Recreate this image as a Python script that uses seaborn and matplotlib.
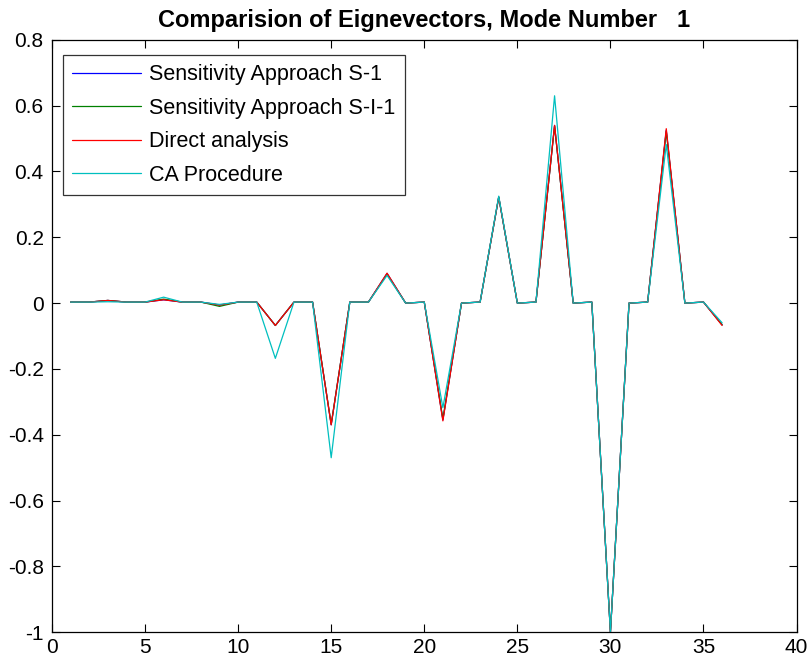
"""
Comparison of eigenvectors, mode number 1 (MATLAB style line chart)
"""

import matplotlib

matplotlib.use("Agg")
import matplotlib.pyplot as plt
import pandas as pd
import seaborn as sns

# node / DOF index
dof = list(range(1, 37))

# Sensitivity approach S-1
sens_s1 = [0.003, 0.003, 0.008, 0.003, 0.003, 0.010, 0.003, 0.003, -0.006, 0.003,
           0.003, -0.068, 0.003, 0.003, -0.370, 0.003, 0.003, 0.090, 0.000, 0.003,
           -0.355, 0.000, 0.003, 0.322, 0.000, 0.003, 0.540, 0.000, 0.003, -1.000,
           0.000, 0.003, 0.525, 0.000, 0.003, -0.066]

# Sensitivity approach S-I-1
sens_si1 = [0.003, 0.003, 0.008, 0.003, 0.003, 0.012, 0.003, 0.003, -0.010, 0.003,
            0.003, -0.068, 0.003, 0.003, -0.368, 0.003, 0.003, 0.088, 0.000, 0.003,
            -0.352, 0.000, 0.003, 0.322, 0.000, 0.003, 0.538, 0.000, 0.003, -1.000,
            0.000, 0.003, 0.522, 0.000, 0.003, -0.066]

# Direct analysis
direct = [0.003, 0.003, 0.008, 0.003, 0.003, 0.010, 0.003, 0.003, -0.006, 0.003,
          0.003, -0.068, 0.003, 0.003, -0.370, 0.003, 0.003, 0.091, 0.000, 0.003,
          -0.358, 0.000, 0.003, 0.322, 0.000, 0.003, 0.540, 0.000, 0.003, -1.000,
          0.000, 0.003, 0.530, 0.000, 0.003, -0.068]

# CA procedure
ca_proc = [0.003, 0.003, 0.004, 0.003, 0.003, 0.018, 0.003, 0.003, -0.004, 0.003,
           0.003, -0.168, 0.003, 0.003, -0.470, 0.003, 0.003, 0.084, 0.000, 0.003,
           -0.318, 0.000, 0.003, 0.325, 0.000, 0.003, 0.630, 0.000, 0.003, -1.000,
           0.000, 0.003, 0.482, 0.000, 0.003, -0.060]

labels = ["Sensitivity Approach S-1", "Sensitivity Approach S-I-1",
          "Direct analysis", "CA Procedure"]
colors = ["#0000ff", "#008000", "#ff0000", "#00bfbf"]


def main():
    sns.set_style("white")
    plt.rcParams["font.family"] = ["Liberation Sans", "DejaVu Sans"]
    plt.rcParams["text.color"] = "black"
    plt.rcParams["xtick.direction"] = "in"
    plt.rcParams["ytick.direction"] = "in"

    fig = plt.figure(figsize=(8.12, 6.64), dpi=100)
    ax = fig.add_axes([0.064, 0.048, 0.917, 0.892])

    series = [sens_s1, sens_si1, direct, ca_proc]
    for vals, lab, col in zip(series, labels, colors):
        df = pd.DataFrame({"x": dof, "y": vals})
        sns.lineplot(data=df, x="x", y="y", ax=ax, color=col, label=lab,
                     linewidth=0.9, estimator=None)

    ax.set_xlim(0, 40)
    ax.set_ylim(-1, 0.8)
    ax.set_xticks(range(0, 41, 5))
    ax.set_yticks([-1, -0.8, -0.6, -0.4, -0.2, 0, 0.2, 0.4, 0.6, 0.8])
    ax.set_yticklabels(["-1", "-0.8", "-0.6", "-0.4", "-0.2", "0", "0.2",
                        "0.4", "0.6", "0.8"])
    ax.set_xlabel("")
    ax.set_ylabel("")
    ax.tick_params(axis="both", labelsize=15, length=5.5, width=0.8,
                   top=True, right=True, bottom=True, left=True,
                   colors="black", labelcolor="black")
    ax.tick_params(axis="y", pad=6)
    ax.tick_params(axis="x", pad=4)
    for sp in ax.spines.values():
        sp.set_color("black")
        sp.set_linewidth(0.9)

    ax.set_title("Comparision of Eignevectors, Mode Number   1",
                 fontsize=17, fontweight="bold", pad=9, color="black")

    leg = ax.legend(loc="upper left", bbox_to_anchor=(0.0145, 0.975),
                    fontsize=15.5, frameon=True, fancybox=False,
                    handlelength=3.2, handletextpad=0.35, borderpad=0.45,
                    labelspacing=0.58, borderaxespad=0, labelcolor="black")
    leg.get_frame().set_edgecolor("black")
    leg.get_frame().set_linewidth(0.9)

    fig.savefig("out.png", dpi=100)
    plt.close(fig)


if __name__ == "__main__":
    main()
